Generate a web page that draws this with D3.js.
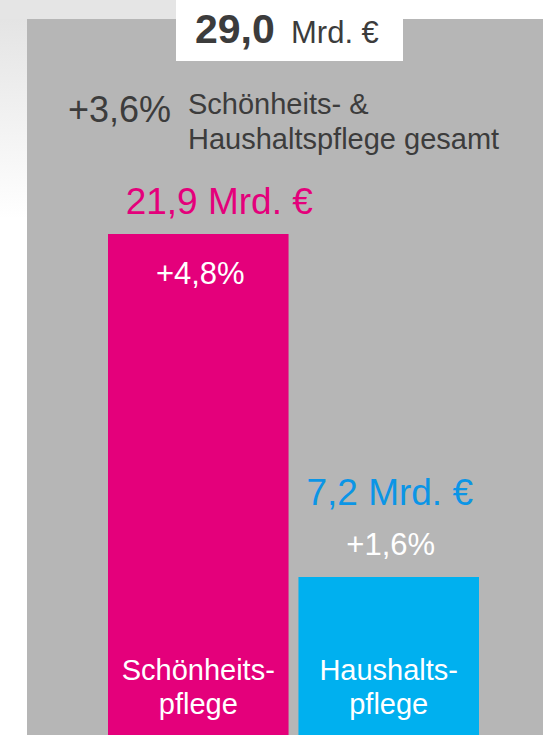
<!DOCTYPE html>
<html lang="de">
<head>
    <meta charset="UTF-8">
    <title>Schönheits- & Haushaltspflege</title>
    <script src="https://d3js.org/d3.v7.min.js"></script>
    <style>
        html, body { margin: 0; padding: 0; background: #fff; }
        svg { display: block; font-family: "Liberation Sans", Arial, sans-serif; }
    </style>
</head>
<body>
<div id="chart"></div>
<script>
// data
const categories = ['Schönheitspflege', 'Haushaltspflege'];
const categoryLines = [['Schönheits-', 'pflege'], ['Haushalts-', 'pflege']];
const values = [21.9, 7.2];        // Mrd. €
const changes = [4.8, 1.6];        // % vs. Vorjahr
const totalValue = 29.0;
const totalChange = 3.6;
const totalLabel = ['Schönheits- &', 'Haushaltspflege gesamt'];
const colors = ['#e4007b', '#00b0ef'];
const labelColors = ['#e4007b', '#0b95e6'];

const width = 543, height = 735;
const de = d3.formatLocale({ decimal: ',', thousands: '.', grouping: [3], currency: ['', ' €'] });
const fmt1 = de.format('.1f');

const svg = d3.select('#chart').append('svg')
    .attr('width', width)
    .attr('height', height);

// left backdrop fading to white
const defs = svg.append('defs');
const grad = defs.append('linearGradient')
    .attr('id', 'fade').attr('x1', 0).attr('y1', 0).attr('x2', 0).attr('y2', 1);
grad.append('stop').attr('offset', '0%').attr('stop-color', '#e4e4e4');
grad.append('stop').attr('offset', '100%').attr('stop-color', '#ffffff');
svg.append('rect').attr('x', 0).attr('y', 0).attr('width', 176).attr('height', 19).attr('fill', '#e5e5e5');
svg.append('rect').attr('x', 0).attr('y', 19).attr('width', 27).attr('height', 200).attr('fill', 'url(#fade)');

// gray panel
svg.append('rect')
    .attr('x', 27).attr('y', 19)
    .attr('width', width - 27).attr('height', height - 19)
    .attr('fill', '#b6b6b6');

// scales
const x = d3.scaleBand()
    .domain(categories)
    .range([108, 479])
    .paddingInner(0.052)
    .paddingOuter(0);

const y = d3.scaleLinear()
    .domain([0, d3.max(values)])
    .range([745, 234]);

const rows = categories.map((c, i) => ({ c, v: values[i], ch: changes[i], i }));

// bars
svg.selectAll('.bar')
    .data(rows)
    .enter()
    .append('rect')
    .attr('class', 'bar')
    .attr('x', d => x(d.c))
    .attr('y', d => y(d.v))
    .attr('width', x.bandwidth())
    .attr('height', d => y(0) - y(d.v))
    .attr('fill', d => colors[d.i]);

// value labels above bars
const labelShift = [21, 1];
svg.selectAll('.val')
    .data(rows)
    .enter()
    .append('text')
    .attr('class', 'val')
    .attr('x', d => x(d.c) + x.bandwidth() / 2 + labelShift[d.i])
    .attr('y', d => y(d.v) - (y(0) - y(d.v) > 300 ? 20 : 72))
    .attr('text-anchor', 'middle')
    .attr('font-size', 37)
    .attr('fill', d => labelColors[d.i])
    .text(d => fmt1(d.v) + ' Mrd. €');

// change labels (inside tall bars, above short ones)
svg.selectAll('.chg')
    .data(rows)
    .enter()
    .append('text')
    .attr('class', 'chg')
    .attr('x', d => x(d.c) + x.bandwidth() / 2 + 2)
    .attr('y', d => y(0) - y(d.v) > 300 ? y(d.v) + 50 : y(d.v) - 22)
    .attr('text-anchor', 'middle')
    .attr('font-size', 31)
    .attr('fill', '#ffffff')
    .text(d => '+' + fmt1(d.ch) + '%');

// category names at the bottom of the bars
const cat = svg.selectAll('.cat')
    .data(rows)
    .enter()
    .append('text')
    .attr('class', 'cat')
    .attr('text-anchor', 'middle')
    .attr('font-size', 29)
    .attr('fill', '#ffffff');
cat.selectAll('tspan')
    .data(d => categoryLines[d.i].map(t => ({ t, d })))
    .enter()
    .append('tspan')
    .attr('x', o => x(o.d.c) + x.bandwidth() / 2)
    .attr('y', (o, j) => 680 + j * 34)
    .text(o => o.t);

// total box
svg.append('rect')
    .attr('x', 176).attr('y', 0)
    .attr('width', 227).attr('height', 61)
    .attr('fill', '#ffffff');
svg.append('text')
    .attr('x', 195).attr('y', 43)
    .attr('font-size', 41)
    .attr('font-weight', 'bold')
    .attr('fill', '#3c3c3c')
    .text(fmt1(totalValue));
svg.append('text')
    .attr('x', 291).attr('y', 43)
    .attr('font-size', 31)
    .attr('fill', '#3c3c3c')
    .text('Mrd. €');

// total change
svg.append('text')
    .attr('x', 68).attr('y', 122)
    .attr('font-size', 36)
    .attr('fill', '#3c3c3c')
    .text('+' + fmt1(totalChange) + '%');
svg.append('text')
    .attr('font-size', 29)
    .attr('fill', '#3c3c3c')
    .selectAll('tspan')
    .data(totalLabel)
    .enter()
    .append('tspan')
    .attr('x', 188)
    .attr('y', (d, i) => 114 + i * 35)
    .text(d => d);
</script>
</body>
</html>
